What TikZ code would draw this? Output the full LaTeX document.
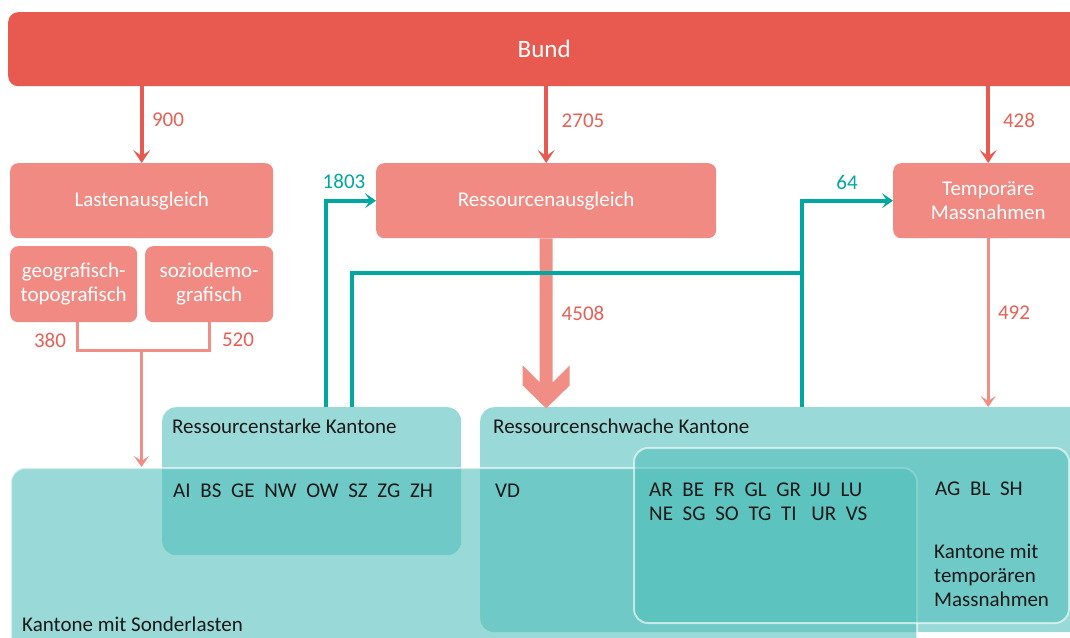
\documentclass[tikz,border=0pt]{standalone}
\usepackage{fontspec}
\setmainfont{Carlito}
\usetikzlibrary{arrows.meta}
\definecolor{bundred}{RGB}{232,89,80}
\definecolor{boxpink}{RGB}{240,138,130}
\definecolor{flowpink}{RGB}{240,142,134}
\definecolor{numred}{RGB}{230,96,86}
\definecolor{flowteal}{RGB}{0,166,160}
\definecolor{kantteal}{RGB}{80,190,186}
\definecolor{inkblack}{RGB}{25,25,25}
\newcommand\codefont{\fontsize{21}{24}\selectfont\spaceskip 9.7pt\relax}

\begin{document}
\begin{tikzpicture}[x=1pt,y=-1pt,
    txt/.style={font=\fontsize{21}{24}\selectfont},
    bar/.style={fill=bundred,text=white,rounded corners=10pt,font=\fontsize{25}{30}\selectfont,inner sep=0pt,anchor=north west},
    topic/.style={fill=boxpink,text=white,rounded corners=8pt,txt,align=center,inner sep=0pt,anchor=north west},
    kgroup/.style={fill=kantteal,fill opacity=0.58,rounded corners=14pt,inner sep=0pt,anchor=north west},
    rimmed/.style={kgroup,draw=white,draw opacity=0.6,line width=2pt},
    caption/.style={txt,text=inkblack,anchor=base west,inner sep=0pt},
    codes/.style={caption,font=\codefont},
    amount/.style={txt,text=numred,inner sep=0pt},
    tamount/.style={amount,text=flowteal},
    fund/.style={draw=bundred,line width=4pt,-{Stealth[length=13pt,width=17pt,inset=6pt]}},
    share/.style={draw=flowpink,line width=3pt},
    sharearrow/.style={share,-{Stealth[length=11pt,width=15pt,inset=5pt]}},
    tealflow/.style={draw=flowteal,line width=4pt},
    tealarrow/.style={tealflow,-{Stealth[length=11pt,width=15pt,inset=5pt]}}]
    \useasboundingbox (0,0) rectangle (1070,637);
    \clip (0,0) rectangle (1070,637);
    \node[bar,minimum width=1072pt,minimum height=74pt] (bund) at (8,12) {Bund};
    \node[topic,minimum width=263pt,minimum height=75pt] (las) at (10,163) {Lastenausgleich};
    \node[topic,minimum width=127pt,minimum height=76pt] (geo) at (10,246) {geografisch-\\topografisch};
    \node[topic,minimum width=128pt,minimum height=76pt] (soz) at (145,246) {soziodemo-\\grafisch};
    \node[topic,minimum width=340pt,minimum height=75pt] (ress) at (376,163) {Ressourcenausgleich};
    \node[topic,minimum width=190pt,minimum height=75pt] (temp) at (893,163) {Temporäre\\Massnahmen};
    \node[kgroup,minimum width=299pt,minimum height=148pt] (stark) at (162,407) {};
    \node[kgroup,minimum width=620pt,minimum height=225pt] (schwach) at (480,407) {};
    \node[rimmed,minimum width=906pt,minimum height=200pt] (sonder) at (10,467) {};
    \node[rimmed,minimum width=435pt,minimum height=175pt] (tempk) at (633,447) {};
    \node[caption] (starklabel) at (172,433) {Ressourcenstarke Kantone};
    \node[codes] (starkcodes) at (173,497) {AI BS GE NW OW SZ ZG ZH};
    \node[caption] (sonderlabel) at (22,631) {Kantone mit Sonderlasten};
    \node[caption] (schwachlabel) at (493,433) {Ressourcenschwache Kantone};
    \node[codes] (vd) at (495,497) {VD};
    \foreach \row/\y in {{AR BE FR GL GR JU LU}/496, {NE SG SO TG TI\hspace{5pt} UR VS}/520}
      \node[codes] (both-\y) at (649,\y) {\row};
    \node[codes] (tempcodes) at (935,495) {AG BL SH};
    \foreach \line/\y in {Kantone mit/558, temporären/582, Massnahmen/606}
      \node[caption] (templabel-\y) at (934,\y) {\line};
    \node[amount] (n900) at (168,120) {900};
    \node[amount] (n2705) at (583,121) {2705};
    \node[amount] (n428) at (1019,120) {428};
    \node[tamount] (n1803) at (344,181) {1803};
    \node[tamount] (n64) at (847,182) {64};
    \node[amount] (n380) at (50,340) {380};
    \node[amount] (n520) at (238,340) {520};
    \node[amount] (n4508) at (583,313) {4508};
    \node[amount] (n492) at (1014,313) {492};
    \draw[fund] (bund.south -| las.north) -- (las.north);
    \draw[fund] (bund.south -| ress.north) -- (ress.north);
    \draw[fund] (bund.south -| temp.north) -- (temp.north);
    \coordinate (brk) at (141.5,350);
    \draw[share] ([xshift=4pt]geo.south) |- (brk) -| (soz.south);
    \draw[sharearrow] (brk) -- (brk |- sonder.north);
    \fill[flowpink] ([xshift=-6.5pt]ress.south) -- ++(0,144) -- ++(-17,-17) -- ++(0,20) -- ++(23.5,23)
      -- ++(23.5,-23) -- ++(0,-20) -- ++(-17,17) -- ++(0,-144) -- cycle;
    \draw[sharearrow] (temp.south) -- (temp.south |- schwach.north);
    \draw[tealarrow] ([xshift=164pt]stark.north west) |- (ress.west);
    \coordinate (join) at (802,273);
    \draw[tealflow] ([xshift=190pt]stark.north west) |- (join);
    \draw[tealarrow] (join |- schwach.north) |- (temp.west);
\end{tikzpicture}
\end{document}
